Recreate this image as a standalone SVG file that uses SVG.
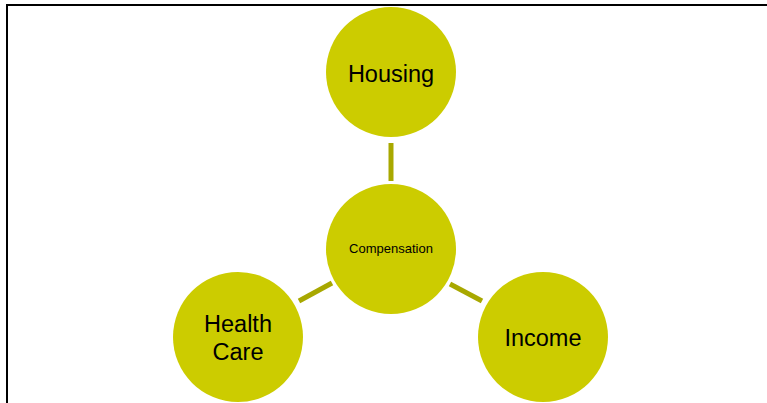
<svg xmlns="http://www.w3.org/2000/svg" width="767" height="403" viewBox="0 0 767 403">
<style>
.node{fill:#CCCC00;}
.lbl{font-family:"Liberation Sans",Arial,sans-serif;fill:#000;text-anchor:middle;font-size:23.5px;}
.small{font-size:13px;}
.conn{stroke:#A8A800;stroke-width:5;fill:none;}
</style>
<rect width="767" height="403" fill="#fff"/>
<path d="M7,403 V5 H767" fill="none" stroke="#000" stroke-width="2"/>
<g id="connectors">
<line class="conn" x1="391" y1="143" x2="391" y2="181"/>
<line class="conn" x1="299" y1="301" x2="332" y2="283"/>
<line class="conn" x1="450" y1="284" x2="482" y2="301"/>
</g>
<g id="housing">
<circle class="node" cx="391" cy="72" r="65"/>
<text class="lbl" x="391" y="82">Housing</text>
</g>
<g id="compensation">
<circle class="node" cx="391" cy="249" r="65"/>
<text class="lbl small" x="391" y="253">Compensation</text>
</g>
<g id="healthcare">
<circle class="node" cx="238" cy="337" r="65"/>
<text class="lbl" x="238" y="332">Health</text>
<text class="lbl" x="238" y="359.5">Care</text>
</g>
<g id="income">
<circle class="node" cx="543" cy="337" r="65"/>
<text class="lbl" x="543" y="346">Income</text>
</g>
</svg>
